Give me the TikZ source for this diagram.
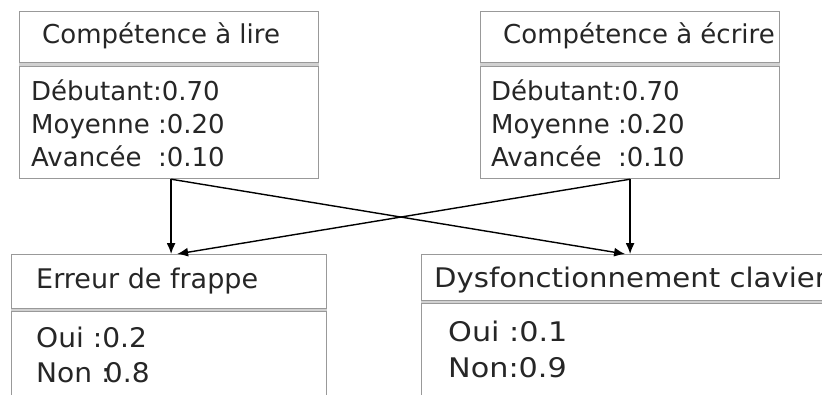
\documentclass[tikz,border=0pt]{standalone}
\usepackage{fontspec}
\setmainfont{DejaVu Sans}
\usetikzlibrary{arrows.meta}
\tikzstyle{cadre} = [draw=black!40, line width=1.2pt, anchor=north west, inner sep=0pt]
\tikzstyle{haut} = [anchor=base west, inner sep=0pt, text=black!85, font=\fontsize{26}{31}\selectfont]
\tikzstyle{bas} = [anchor=base west, inner sep=0pt, text=black!85, font=\fontsize{27}{32}\selectfont]
\tikzstyle{trait} = [draw=black!40, line width=0.9pt, double=black!18, double distance=2.6pt]
\tikzstyle{fleche} = [-{Latex[length=11pt,width=9pt]}, line width=1.4pt]

\begin{document}
\begin{tikzpicture}[x=1pt,y=-1pt]
	\useasboundingbox (0,0) rectangle (822,394);
	\clip (0,0) rectangle (822,394);
	% tables
	\node[cadre, minimum width=299pt, minimum height=167pt] (lire) at (19,11) {};
	\node[cadre, minimum width=299pt, minimum height=167pt] (ecrire) at (480,11) {};
	\node[cadre, minimum width=315pt, minimum height=170pt] (frappe) at (11,254) {};
	\node[cadre, minimum width=440pt, minimum height=170pt] (clavier) at (421,254) {};
	\draw[trait] (lire.west |- 0,64.5) -- (lire.east |- 0,64.5);
	\draw[trait] (ecrire.west |- 0,64.5) -- (ecrire.east |- 0,64.5);
	\draw[trait] (frappe.west |- 0,310) -- (frappe.east |- 0,310);
	\draw[trait] (clavier.west |- 0,302) -- (clavier.east |- 0,302);
	% Competence a lire
	\node[haut] (lireT) at (42,43) {Compétence à lire};
	\node[haut] (lire1) at (31,100) {Débutant:0.70};
	\node[haut] (lire2) at (31,133) {Moyenne :0.20};
	\node[haut] (lire3) at (31,166) {Avancée\ \ :0.10};
	% Competence a ecrire
	\node[haut] (ecrireT) at (503,43) {Compétence à écrire};
	\node[haut] (ecrire1) at (491,100) {Débutant:0.70};
	\node[haut] (ecrire2) at (491,133) {Moyenne :0.20};
	\node[haut] (ecrire3) at (491,166) {Avancée\ \ :0.10};
	% Erreur de frappe
	\node[bas] (frappeT) at (36,288) {Erreur de frappe};
	\node[bas] (frappe1) at (36,347) {\scalebox{1.04}[1]{Oui :0.2}};
	\node[bas] (frappe2) at (36,382) {\scalebox{1.04}[1]{Non :\kern-.2em0.8}};
	% Dysfonctionnement clavier
	\node[bas] (clavierT) at (434,287) {\scalebox{1.08}[1]{Dysfonctionnement clavier}};
	\node[bas] (clavier1) at (448,341) {\scalebox{1.12}[1]{Oui :0.1}};
	\node[bas] (clavier2) at (448,377) {\scalebox{1.12}[1]{Non:0.9}};
	% arcs
	\draw[fleche] ([xshift=2pt]lire.south) -- ([xshift=2pt]lire.south |- frappe.north);
	\draw[fleche] ([xshift=2pt]lire.south) -- ([xshift=-5pt]ecrire.south |- clavier.north);
	\draw[fleche] (ecrire.south) -- (ecrire.south |- clavier.north);
	\draw[fleche] (ecrire.south) -- ([xshift=8pt]lire.south |- frappe.north);
\end{tikzpicture}
\end{document}
